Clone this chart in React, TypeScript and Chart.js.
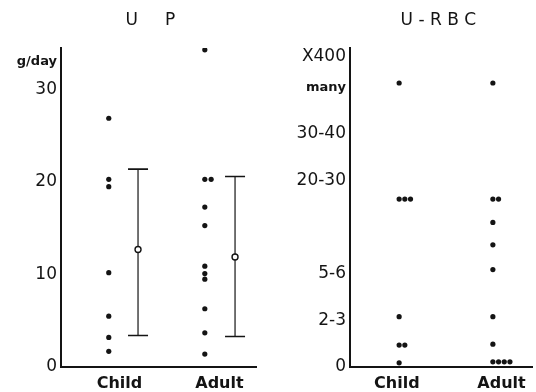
import React, { useEffect, useRef } from "react";
import { Chart, registerables } from "chart.js";

Chart.register(...registerables);

// ---------- U P (g/day) ----------
const upCategories = ["Child", "Adult"];
const upCategoryTickPositions = [1.2, 3.25];
const upGroupPositions = [0.98, 2.95];
const upChildValues = [26.9, 20.3, 19.5, 10.2, 5.5, 3.2, 1.7];
const upChildSlots = [0, 0, 0, 0, 0, 0, 0];
const upAdultValues = [34.3, 20.3, 20.3, 17.3, 15.3, 10.9, 10.1, 9.5, 6.3, 3.7, 1.4];
const upAdultSlots = [0, 0, 1, 0, 0, 0, 0, 0, 0, 0, 0];
const upBarPositions = [1.58, 3.57];
const upMeans = [12.7, 11.9];
const upLower = [3.4, 3.3];
const upUpper = [21.4, 20.6];
const upYTicks = [0, 10, 20, 30, 33];
const upYLabels = ["0", "10", "20", "30", "g/day"];

// ---------- U - R B C (graded scale) ----------
const rbcCategories = ["Child", "Adult"];
const rbcCategoryTickPositions = [1.03, 3.33];
const rbcGroupPositions = [1.08, 3.14];
const rbcChildValues = [6.09, 3.6, 3.6, 3.6, 1.08, 0.47, 0.47, 0.09];
const rbcChildSlots = [0, 0, 1, 2, 0, 0, 1, 0];
const rbcAdultValues = [6.09, 3.6, 3.6, 3.1, 2.62, 2.09, 1.08, 0.49, 0.11, 0.11, 0.11, 0.11];
const rbcAdultSlots = [0, 0, 1, 0, 0, 0, 0, 0, 0, 1, 2, 3];
const rbcYTicks = [0, 1, 2, 4, 5, 6, 6.65];
const rbcYLabels = ["0", "2-3", "5-6", "20-30", "30-40", "many", "X400"];

const INK = "#141414";
const FONT = "'DejaVu Sans', sans-serif";

type PanelProps = {
  title: string;
  width: number;
  height: number;
  axisWidth: number;
  rightPad: number;
  yMax: number;
  yTicks: number[];
  yLabels: string[];
  smallLabels: string[];
  categories: string[];
  categoryTicks: number[];
  groupPositions: number[];
  groups: { values: number[]; slots: number[] }[];
  slotStep: number;
  bars?: { pos: number[]; mean: number[]; lower: number[]; upper: number[] };
};

function buildPoints(p: PanelProps) {
  const pts: { x: number; y: number }[] = [];
  p.groups.forEach((g, gi) => {
    g.values.forEach((v, i) => {
      pts.push({ x: p.groupPositions[gi] + g.slots[i] * p.slotStep, y: v });
    });
  });
  return pts;
}

function Panel(p: PanelProps) {
  const ref = useRef<HTMLCanvasElement | null>(null);
  useEffect(() => {
    if (!ref.current) return;
    const datasets: any[] = [
      {
        type: "scatter",
        data: buildPoints(p),
        pointRadius: 2.6,
        pointBackgroundColor: INK,
        pointBorderWidth: 0,
        showLine: false,
      },
    ];
    if (p.bars) {
      datasets.push({
        type: "scatter",
        data: p.bars.pos.map((x, i) => ({ x, y: p.bars!.mean[i] })),
        pointRadius: 3,
        pointBackgroundColor: "#ffffff",
        pointBorderColor: INK,
        pointBorderWidth: 1.4,
        showLine: false,
      });
    }
    const errorBars = {
      id: "errorBars",
      beforeDatasetsDraw(chart: any) {
        if (!p.bars) return;
        const { ctx } = chart;
        const xs = chart.scales.x;
        const ys = chart.scales.y;
        ctx.save();
        ctx.strokeStyle = INK;
        p.bars.pos.forEach((pos, i) => {
          const px = xs.getPixelForValue(pos);
          const top = ys.getPixelForValue(p.bars!.upper[i]);
          const bot = ys.getPixelForValue(p.bars!.lower[i]);
          ctx.lineWidth = 1.2;
          ctx.beginPath();
          ctx.moveTo(px, top);
          ctx.lineTo(px, bot);
          ctx.stroke();
          ctx.lineWidth = 1.6;
          ctx.beginPath();
          ctx.moveTo(px - 10, top);
          ctx.lineTo(px + 10, top);
          ctx.moveTo(px - 10, bot);
          ctx.lineTo(px + 10, bot);
          ctx.stroke();
        });
        ctx.restore();
      },
    };
    const chart = new Chart(ref.current, {
      type: "scatter",
      data: { datasets },
      plugins: [errorBars],
      options: {
        animation: false,
        responsive: false,
        layout: { padding: { left: 0, right: p.rightPad, top: 0, bottom: 0 } },
        plugins: {
          legend: { display: false },
          tooltip: { enabled: false },
          title: {
            display: true,
            text: p.title,
            fullSize: false,
            color: INK,
            font: { family: FONT, size: 17, weight: "normal" },
            padding: { top: 10, bottom: 17.6 },
          },
        },
        scales: {
          x: {
            type: "linear",
            min: 0,
            max: 4,
            grid: { display: false, drawTicks: false },
            border: { display: true, color: INK, width: 2 },
            afterBuildTicks: (s: any) => {
              s.ticks = p.categoryTicks.map((v) => ({ value: v }));
            },
            afterFit: (s: any) => {
              s.height = 25;
            },
            ticks: {
              color: INK,
              padding: 7,
              maxRotation: 0,
              autoSkip: false,
              font: { family: FONT, size: 16, weight: "bold" },
              callback: (v: any) => {
                const i = p.categoryTicks.indexOf(Number(v));
                return i >= 0 ? p.categories[i] : "";
              },
            },
          },
          y: {
            type: "linear",
            min: 0,
            max: p.yMax,
            grid: { display: false, drawTicks: false },
            border: { display: true, color: INK, width: 2 },
            afterBuildTicks: (s: any) => {
              s.ticks = p.yTicks.map((v) => ({ value: v }));
            },
            afterFit: (s: any) => {
              s.width = p.axisWidth;
            },
            ticks: {
              color: INK,
              padding: 4,
              autoSkip: false,
              font: (c: any) => {
                const i = p.yTicks.indexOf(c.tick ? c.tick.value : -1);
                const lbl = i >= 0 ? p.yLabels[i] : "";
                if (p.smallLabels.includes(lbl))
                  return { family: FONT, size: 13, weight: "bold" };
                return { family: FONT, size: 17, weight: "normal" };
              },
              callback: (v: any) => {
                const i = p.yTicks.indexOf(Number(v));
                return i >= 0 ? p.yLabels[i] : "";
              },
            },
          },
        },
      } as any,
    });
    return () => chart.destroy();
  }, []);
  return (
    <canvas
      ref={ref}
      width={p.width}
      height={p.height}
      style={{ display: "block", width: p.width, height: p.height }}
    />
  );
}

export default function App() {
  return (
    <div
      style={{
        position: "absolute",
        left: 0,
        top: 0,
        width: 536,
        height: 392,
        background: "#ffffff",
        display: "flex",
        flexDirection: "row",
      }}
    >
      <Panel
        title="U     P   "
        width={270}
        height={392}
        axisWidth={61}
        rightPad={14}
        yMax={34.5}
        yTicks={upYTicks}
        yLabels={upYLabels}
        smallLabels={["g/day"]}
        categories={upCategories}
        categoryTicks={upCategoryTickPositions}
        groupPositions={upGroupPositions}
        groups={[
          { values: upChildValues, slots: upChildSlots },
          { values: upAdultValues, slots: upAdultSlots },
        ]}
        slotStep={0.13}
        bars={{ pos: upBarPositions, mean: upMeans, lower: upLower, upper: upUpper }}
      />
      <Panel
        title="U - R B C "
        width={266}
        height={392}
        axisWidth={80}
        rightPad={0}
        yMax={6.84}
        yTicks={rbcYTicks}
        yLabels={rbcYLabels}
        smallLabels={["many"]}
        categories={rbcCategories}
        categoryTicks={rbcCategoryTickPositions}
        groupPositions={rbcGroupPositions}
        groups={[
          { values: rbcChildValues, slots: rbcChildSlots },
          { values: rbcAdultValues, slots: rbcAdultSlots },
        ]}
        slotStep={0.125}
      />
    </div>
  );
}
